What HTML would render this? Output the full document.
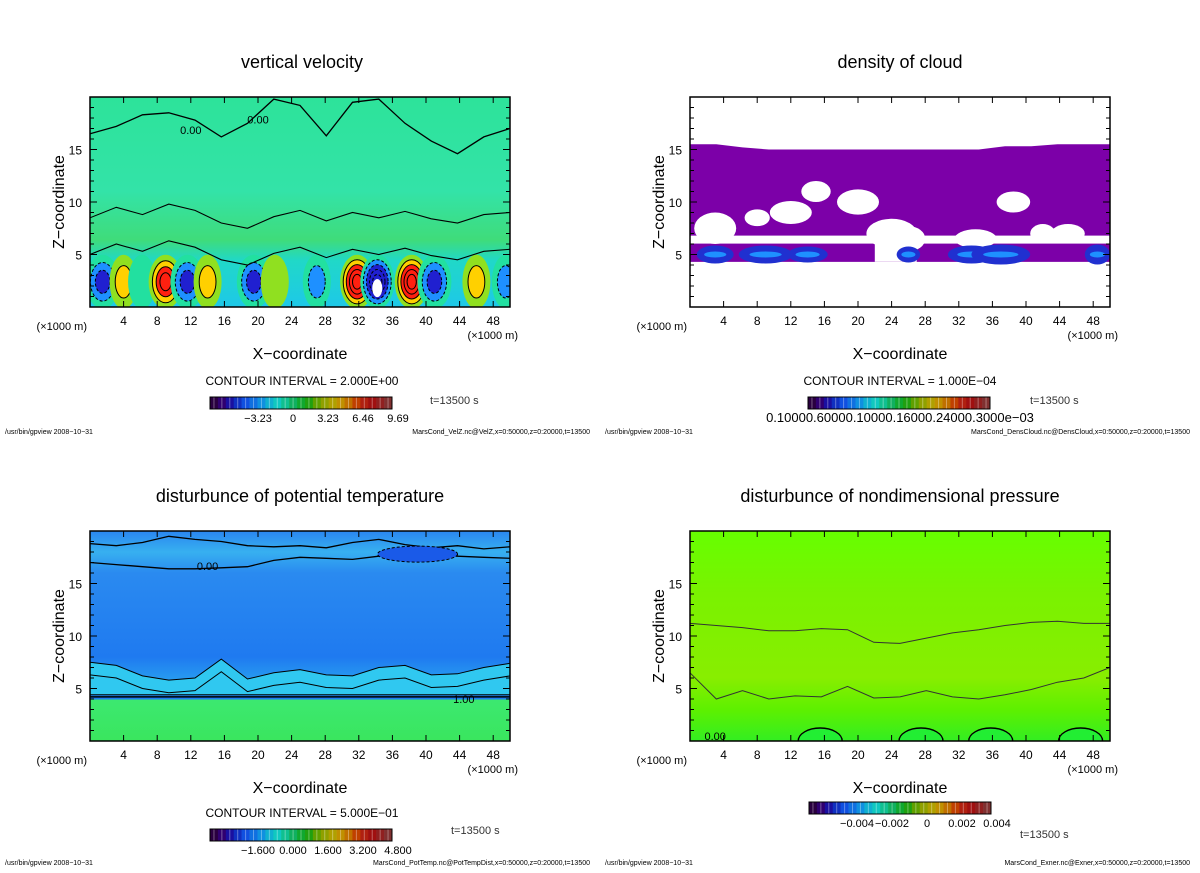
<!DOCTYPE html>
<html><head><meta charset="utf-8"><style>
body{margin:0;background:#fff;}
svg text{font-family:"Liberation Sans","DejaVu Sans",sans-serif;}
</style></head><body>
<svg id="s" width="1200" height="868" viewBox="0 0 1200 868" xmlns="http://www.w3.org/2000/svg">
<defs>
<linearGradient id="gVel" x1="0" y1="0" x2="0" y2="1">
<stop offset="0" stop-color="#2de39a"/><stop offset="0.45" stop-color="#33e3a8"/><stop offset="0.68" stop-color="#3fdc7a"/><stop offset="0.78" stop-color="#20d8c8"/><stop offset="1" stop-color="#1ec8e8"/></linearGradient>
<linearGradient id="gPT" x1="0" y1="0" x2="0" y2="1">
<stop offset="0" stop-color="#2a86f0"/><stop offset="0.1" stop-color="#37b0f0"/><stop offset="0.2" stop-color="#2a8af0"/><stop offset="0.6" stop-color="#1f7af0"/><stop offset="0.75" stop-color="#2aa8f0"/><stop offset="0.8" stop-color="#1f7af0"/><stop offset="0.805" stop-color="#3ce870"/><stop offset="1" stop-color="#3ae65e"/></linearGradient>
<linearGradient id="gEx" x1="0" y1="0" x2="0" y2="1">
<stop offset="0" stop-color="#66ff00"/><stop offset="0.3" stop-color="#7af200"/><stop offset="0.7" stop-color="#88ee00"/><stop offset="0.85" stop-color="#5ef000"/><stop offset="1" stop-color="#33ee22"/></linearGradient>
<clipPath id="c1"><rect x="90" y="97" width="420" height="210"/></clipPath>
<clipPath id="c2"><rect x="690" y="97" width="420" height="210"/></clipPath>
<clipPath id="c3"><rect x="90" y="531" width="420" height="210"/></clipPath>
<clipPath id="c4"><rect x="690" y="531" width="420" height="210"/></clipPath>
</defs>
</svg>
<script>
// ---------- data ----------
const xTicks=[4,8,12,16,20,24,28,32,36,40,44,48];
const zTicks=[5,10,15];
// vertical velocity convective cells (x km, value m/s)
const cellX=[1.5,4,6.2,9,11.6,14,19.5,22,27,31.8,34.2,38.3,41,46,49.5];
const cellV=[-6,3,-2,8,-5,3,-5,2,-3,9,-9,9,-5,4,-4];
// velocity zero-contour heights along x (0..50 step 3.125)
const velZero=[16.5,17.2,18.3,18.5,17.8,16.2,17.5,19.8,19.2,16.3,19.5,19.8,17.5,15.8,14.6,16.2,17.0];
const velLow=[8.5,9.5,8.8,9.8,9.2,8.0,7.5,8.6,9.2,8.2,9.0,8.5,9.1,8.4,8.0,8.8,9.0];
// cloud density band
const cloudTop=[15.5,15.5,15.2,15,15,15,15,15,15,15,15,15,15.3,15.3,15.5,15.5,15.5];
const cloudPatchX=[3,9,14,26,33.5,37,48.5];
const cloudPatchW=[2.2,3.2,2.4,1.4,2.8,3.5,1.5];
const cloudPatchV=[3,3,2,2,3,4,4];
const holeX=[3,12,15,20,24,26,34,38.5,42,45,8];
const holeZ=[7.5,9,11,10,7,6.5,6.5,10,7,7,8.5];
const holeW=[5,5,3.5,5,6,4,5,4,3,4,3];
const holeH=[1.5,1.1,1.0,1.2,1.4,1.2,0.9,1.0,0.9,0.9,0.8];
// potential temperature
const ptTop=[18.8,18.6,18.9,19.5,19.2,19.0,18.6,18.5,18.6,18.4,18.9,19.2,18.7,18.4,18.6,18.3,18.5];
const ptZero=[17.0,16.8,16.6,16.4,16.4,16.5,16.6,17.2,17.5,17.4,17.3,17.6,17.8,17.7,17.6,17.5,17.4];
const ptMix=[7.5,7.2,6.2,5.8,6.0,7.8,5.9,6.5,6.8,6.3,6.2,7.0,7.2,6.3,6.4,7.0,7.4];
// nondimensional pressure contours
const exA=[11.2,11.0,10.8,10.5,10.5,10.7,10.6,9.4,9.3,9.8,10.3,10.6,11.0,11.3,11.4,11.2,11.2];
const exB=[6.5,4.0,4.8,4.0,4.3,4.2,5.2,4.1,4.2,4.8,4.2,4.0,4.4,4.9,5.6,6.0,7.0];
const exBump=[15.5,27.5,35.8,46.5];
// colorbars
const velLabels=["\u22123.23","0","3.23","6.46","9.69"];
const ptLabels=["\u22121.600","0.000","1.600","3.200","4.800"];
const exLabels=["\u22120.004","\u22120.002","0","0.002","0.004"];
const cbColors=["#2a0040","#300070","#1a10a0","#1030c0","#1050e0","#1070e0","#1090e0","#10b0d0","#10c8c0","#10c090","#10b060","#10a830","#20a010","#60a000","#90a000","#b0a000","#c09000","#c07000","#c04000","#b02010","#a01010","#902020","#803030"];

const S=document.getElementById('s');
const NS='http://www.w3.org/2000/svg';
function el(tag,attrs,parent){const e=document.createElementNS(NS,tag);for(const k in attrs)e.setAttribute(k,attrs[k]);(parent||S).appendChild(e);return e;}
function txt(x,y,t,size,anchor,parent,fill){const e=el('text',{x:x,y:y,'font-size':size,'text-anchor':anchor||'middle',fill:fill||'#000'},parent);e.textContent=t;return e;}
function mk(ox,oy){return {xs:k=>ox+k*8.4, zs:z=>oy+210-z*10.5, ox:ox, oy:oy};}
function linePath(P,arr){let d='';arr.forEach((z,i)=>{d+=(i?'L':'M')+P.xs(i*50/(arr.length-1)).toFixed(1)+','+P.zs(z).toFixed(1);});return d;}
function valColor(v,max){const t=Math.max(0,Math.min(1,(v/max+1)/2));const stops=[[0,'#400090'],[0.2,'#2020d0'],[0.38,'#1e90ff'],[0.5,'#22e0a0'],[0.62,'#90e020'],[0.8,'#ffd000'],[1,'#ff2010']];for(let i=1;i<stops.length;i++){if(t<=stops[i][0])return stops[i][1];}return '#ff2010';}

function axes(P,g){
  el('rect',{x:P.ox,y:P.oy,width:420,height:210,fill:'none',stroke:'#000','stroke-width':1.5},g);
  xTicks.forEach(k=>{const x=P.xs(k);el('line',{x1:x,y1:P.oy+210,x2:x,y2:P.oy+204,stroke:'#000'},g);el('line',{x1:x,y1:P.oy,x2:x,y2:P.oy+6,stroke:'#000'},g);const t=txt(x,P.oy+228,String(k),12,'middle',g);});
  for(let z=1;z<20;z++){const y=P.zs(z);const len=z%5==0?7:4;el('line',{x1:P.ox,y1:y,x2:P.ox+len,y2:y,stroke:'#000'},g);el('line',{x1:P.ox+420,y1:y,x2:P.ox+420-len,y2:y,stroke:'#000'},g);}
  zTicks.forEach(z=>{const t=txt(P.ox-8,P.zs(z)+5,String(z),12,'end',g);});
  const a=txt(P.ox-3,P.oy+233,'(\u00d71000 m)',11,'end',g);
  const b=txt(P.ox+428,P.oy+242,'(\u00d71000 m)',11,'end',g);
  const xt=txt(P.ox+210,P.oy+262,'X\u2212coordinate',16,'middle',g);
  const yt=txt(0,0,'Z\u2212coordinate',16,'middle',g);yt.setAttribute('transform','translate('+(P.ox-26)+','+(P.oy+105)+') rotate(-90)');
}
function colorbar(x,y,labels,g,name){
  const cg=el('g',{},g);
  const w=182/cbColors.length;
  cbColors.forEach((c,i)=>{el('rect',{x:x+i*w,y:y,width:w+0.3,height:12,fill:c},cg);el('line',{x1:x+i*w+w/2,y1:y,x2:x+i*w+w/2,y2:y+12,stroke:'#ffffff','stroke-opacity':0.35,'stroke-width':1},cg);});
  el('rect',{x:x,y:y,width:182,height:12,fill:'none',stroke:'#000'},cg);
  labels.forEach((l,i)=>{const t=txt(x+48+i*35,y+25,l,11,'middle',cg);});
}
function footer(x,y,right,g){
  const a=txt(x,y,'/usr/bin/gpview   2008\u221210\u221231',7,'start',g);
  const b=txt(x+585,y,right,7,'end',g);
}

// ---------- panel 1: vertical velocity ----------
(function(){
  const P=mk(90,97);const g=el('g',{});
  const t=txt(302,68,'vertical velocity',18,'middle',g);
  const pg=el('g',{'clip-path':'url(#c1)'},g);
  el('rect',{x:P.ox,y:P.oy,width:420,height:210,fill:'url(#gVel)'},pg);
  const cg=el('g',{},pg);
  cellX.forEach((cx,i)=>{const v=cellV[i];const n=Math.max(1,Math.round(Math.abs(v)/2));
    for(let k=1;k<=n;k++){const f=1-(k-1)/(n+0.5);const vv=Math.sign(v)*k*2;
      const e=el('ellipse',{cx:P.xs(cx),cy:P.zs(2.4),rx:(Math.abs(v)>4?17:14)*f,ry:27*f,fill:valColor(vv,9),stroke:k>1?'#000':'none','stroke-width':1,'stroke-dasharray':v<0?'3,2':''},cg);
      }
    if(Math.abs(v)>=9&&v<0)el('ellipse',{cx:P.xs(cx),cy:P.zs(1.8),rx:5,ry:9,fill:'#fff'},cg);
  });
  const l1=el('path',{d:linePath(P,velZero),fill:'none',stroke:'#000','stroke-width':1.3},pg);
  const l2=el('path',{d:linePath(P,velLow),fill:'none',stroke:'#000','stroke-width':1.1},pg);
  const l3=el('path',{d:linePath(P,velLow.map(z=>z-3.5)),fill:'none',stroke:'#000','stroke-width':1.1},pg);
  txt(P.xs(12),P.zs(16.5),'0.00',11,'middle',g);txt(P.xs(20),P.zs(17.5),'0.00',11,'middle',g);
  axes(P,g);
  const ci=txt(302,385,'CONTOUR INTERVAL = 2.000E+00',12,'middle',g);
  colorbar(210,397,velLabels,g,'velocity-colorbar');
  const tt=txt(430,404,'t=13500  s',11,'start',g,'#333');
  footer(5,434,'MarsCond_VelZ.nc@VelZ,x=0:50000,z=0:20000,t=13500',g);
})();

// ---------- panel 2: cloud density ----------
(function(){
  const P=mk(690,97);const g=el('g',{});
  const t=txt(900,68,'density of cloud',18,'middle',g);
  const pg=el('g',{'clip-path':'url(#c2)'},g);
  let d='M'+P.xs(0)+','+P.zs(4.3);cloudTop.forEach((z,i)=>{d+='L'+P.xs(i*50/16).toFixed(1)+','+P.zs(z).toFixed(1);});d+='L'+P.xs(50)+','+P.zs(4.3)+'Z';
  const band=el('path',{d:d,fill:'#7c00a8'},pg);
  el('rect',{x:P.xs(0),y:P.zs(6.8),width:420,height:8,fill:'#fff'},pg);
  holeX.forEach((hx,i)=>{const h=el('ellipse',{cx:P.xs(hx),cy:P.zs(holeZ[i]),rx:holeW[i]*8.4/2,ry:holeH[i]*10.5,fill:'#fff'},pg);});
  el('rect',{x:P.xs(22),y:P.zs(6.4),width:5*8.4,height:22,fill:'#fff'},pg);
  cloudPatchX.forEach((px,i)=>{const w=cloudPatchW[i]*8.4;const p=el('ellipse',{cx:P.xs(px),cy:P.zs(5),rx:w,ry:6+cloudPatchV[i],fill:'#2030d0'},pg);
    el('ellipse',{cx:P.xs(px),cy:P.zs(5),rx:w*0.6,ry:3,fill:'#1e90ff'},pg);});
  axes(P,g);
  const ci=txt(900,385,'CONTOUR INTERVAL = 1.000E\u221204',12,'middle',g);
  colorbar(808,397,[],g,'cloud-colorbar');
  const cl=txt(900,422,'0.10000.60000.10000.16000.24000.3000e\u221203',13,'middle',g);
  const tt=txt(1030,404,'t=13500  s',11,'start',g,'#333');
  footer(605,434,'MarsCond_DensCloud.nc@DensCloud,x=0:50000,z=0:20000,t=13500',g);
})();

// ---------- panel 3: potential temperature ----------
(function(){
  const P=mk(90,531);const g=el('g',{});
  const t=txt(300,502,'disturbunce of potential temperature',18,'middle',g);
  const pg=el('g',{'clip-path':'url(#c3)'},g);
  el('rect',{x:P.ox,y:P.oy,width:420,height:210,fill:'url(#gPT)'},pg);
  let d='M'+P.xs(0)+','+P.zs(4.4);ptMix.forEach((z,i)=>{d+='L'+P.xs(i*50/16).toFixed(1)+','+P.zs(z).toFixed(1);});d+='L'+P.xs(50)+','+P.zs(4.4)+'Z';
  const m=el('path',{d:d,fill:'#30c8f0',stroke:'#000','stroke-width':1},pg);
  el('path',{d:linePath(P,ptMix.map(z=>z-1.2)),fill:'none',stroke:'#000','stroke-width':1},pg);
  const l1=el('path',{d:linePath(P,ptTop),fill:'none',stroke:'#000','stroke-width':1.3},pg);
  const l2=el('path',{d:linePath(P,ptZero),fill:'none',stroke:'#000','stroke-width':1.3},pg);
  el('line',{x1:P.ox,y1:P.zs(4.2),x2:P.ox+420,y2:P.zs(4.2),stroke:'#000','stroke-width':1.5},pg);
  el('ellipse',{cx:P.xs(39),cy:P.zs(17.8),rx:40,ry:8,fill:'#1a5ae8',stroke:'#000','stroke-dasharray':'3,2'},pg);
  txt(P.xs(14),P.zs(16.3),'0.00',11,'middle',g);txt(P.xs(44.5),P.zs(3.6),'1.00',11,'middle',g);
  axes(P,g);
  const ci=txt(302,817,'CONTOUR INTERVAL = 5.000E\u221201',12,'middle',g);
  colorbar(210,829,ptLabels,g,'temperature-colorbar');
  const tt=txt(451,834,'t=13500  s',11,'start',g,'#333');
  footer(5,865,'MarsCond_PotTemp.nc@PotTempDist,x=0:50000,z=0:20000,t=13500',g);
})();

// ---------- panel 4: nondimensional pressure ----------
(function(){
  const P=mk(690,531);const g=el('g',{});
  const t=txt(900,502,'disturbunce of nondimensional pressure',18,'middle',g);
  const pg=el('g',{'clip-path':'url(#c4)'},g);
  el('rect',{x:P.ox,y:P.oy,width:420,height:210,fill:'url(#gEx)'},pg);
  exBump.forEach(bx=>{const b=el('ellipse',{cx:P.xs(bx),cy:P.zs(0),rx:22,ry:13,fill:'#22ee33',stroke:'#000','stroke-width':1.4},pg);});
  const l1=el('path',{d:linePath(P,exA),fill:'none',stroke:'#333','stroke-width':1},pg);
  const l2=el('path',{d:linePath(P,exB),fill:'none',stroke:'#333','stroke-width':1},pg);
  txt(P.xs(3),P.zs(0)-1,'0.00',11,'middle',g);
  axes(P,g);
  colorbar(809,802,exLabels,g,'pressure-colorbar');
  const tt=txt(1020,838,'t=13500  s',11,'start',g,'#333');
  footer(605,865,'MarsCond_Exner.nc@Exner,x=0:50000,z=0:20000,t=13500',g);
})();
</script>
</body></html>
